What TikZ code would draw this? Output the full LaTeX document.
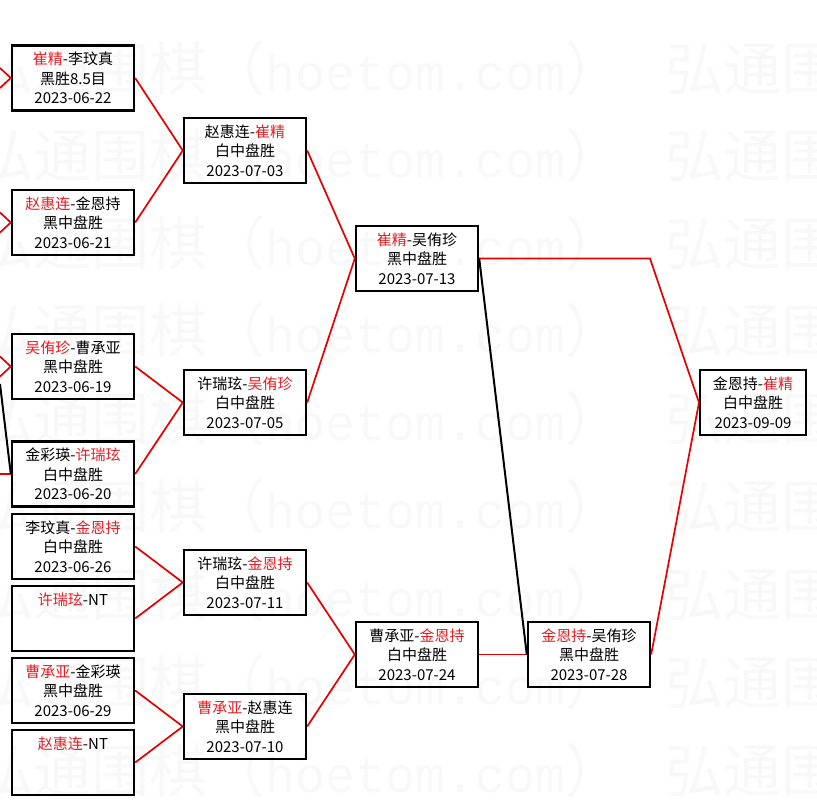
\documentclass[tikz,border=0pt]{standalone}
\usepackage{fontspec}
\setmainfont{Noto Sans CJK SC}
\newfontfamily\monofuente{Liberation Mono}
\usetikzlibrary{positioning}
\definecolor{figRojo}{RGB}{230,0,0}
\definecolor{figTextoRojo}{RGB}{228,30,36}
\definecolor{figMarca}{RGB}{248,248,248}
\newcommand{\gana}[1]{\textcolor{figTextoRojo}{#1}}
\newcommand{\marcatxt}{弘通围棋（{\monofuente\fontsize{50}{50}\selectfont hoetom.com}）\hspace{42pt}}
\tikzset{
  partido/.style={
    rectangle, draw=black, line width=2.4pt, fill=none,
    minimum width=122pt, minimum height=65pt,
    align=center, font=\fontsize{15}{19.5}\selectfont, inner sep=0pt
  },
  partidof/.style={partido, minimum width=106pt, line width=2pt},
  flecha/.style={line width=1.7pt, draw=figRojo},
  flechan/.style={line width=2pt, draw=black},
  marca/.style={
    anchor=west, text=figMarca, inner sep=0pt,
    font=\fontsize{58}{60}\selectfont
  }
}

\begin{document}
\begin{tikzpicture}[x=1pt, y=-1pt]
  \useasboundingbox (0,0) rectangle (817,805);

  % marca de agua
  \begin{scope}
    \clip (0,0) rectangle (817,805);
    \node[marca] (marca1) at (-25,68) {\marcatxt\marcatxt};
    \node[marca] (marca2) at (-25,155) {\marcatxt\marcatxt};
    \node[marca] (marca3) at (-25,243) {\marcatxt\marcatxt};
    \node[marca] (marca4) at (-25,330) {\marcatxt\marcatxt};
    \node[marca] (marca5) at (-25,418) {\marcatxt\marcatxt};
    \node[marca] (marca6) at (-25,506) {\marcatxt\marcatxt};
    \node[marca] (marca7) at (-25,594) {\marcatxt\marcatxt};
    \node[marca] (marca8) at (-25,682) {\marcatxt\marcatxt};
    \node[marca] (marca9) at (-25,770) {\marcatxt\marcatxt};
  \end{scope}

  % primera ronda
  \node[partido] (b1) at (73,78) {\gana{崔精}-李玟真\\黑胜8.5目\\2023-06-22};
  \node[partido] (b2) at (73,222.5) {\gana{赵惠连}-金恩持\\黑中盘胜\\2023-06-21};
  \node[partido] (b3) at (73,366.5) {\gana{吴侑珍}-曹承亚\\黑中盘胜\\2023-06-19};
  \node[partido] (b4) at (73,474) {金彩瑛-\gana{许瑞玹}\\白中盘胜\\2023-06-20};
  \node[partido] (b5) at (73,546.5) {李玟真-\gana{金恩持}\\白中盘胜\\2023-06-26};
  \node[partido] (b6) at (73,618.5) {\gana{许瑞玹}-NT\\\mbox{}\\\mbox{}};
  \node[partido] (b7) at (73,690.5) {\gana{曹承亚}-金彩瑛\\黑中盘胜\\2023-06-29};
  \node[partido] (b8) at (73,762.5) {\gana{赵惠连}-NT\\\mbox{}\\\mbox{}};

  % segunda ronda
  \node[partido] (c1) at (245,150.5) {赵惠连-\gana{崔精}\\白中盘胜\\2023-07-03};
  \node[partido] (c2) at (245,402.5) {许瑞玹-\gana{吴侑珍}\\白中盘胜\\2023-07-05};
  \node[partido] (c3) at (245,582.5) {许瑞玹-\gana{金恩持}\\白中盘胜\\2023-07-11};
  \node[partido] (c4) at (245,726.5) {\gana{曹承亚}-赵惠连\\黑中盘胜\\2023-07-10};

  % tercera ronda
  \node[partido] (d1) at (417,258.5) {\gana{崔精}-吴侑珍\\黑中盘胜\\2023-07-13};
  \node[partido] (d2) at (417,654.5) {曹承亚-\gana{金恩持}\\白中盘胜\\2023-07-24};
  \node[partido] (e1) at (589,654.5) {\gana{金恩持}-吴侑珍\\黑中盘胜\\2023-07-28};

  % final
  \node[partidof] (final) at (753,402.5) {金恩持-\gana{崔精}\\白中盘胜\\2023-09-09};

  % extremos fuera del cuadro
  \coordinate (izq1a) at (0,68);
  \coordinate (izq1b) at (0,88);
  \coordinate (izq2a) at (0,212.5);
  \coordinate (izq2b) at (0,232.5);
  \coordinate (izq3a) at (0,356.5);
  \coordinate (izq3b) at (0,376.5);
  \coordinate (izq4r) at (0,474);
  \coordinate (izq4n) at (0,384);
  \coordinate (codo) at (650,258.5);

  \draw[flecha] (izq1a) -- (b1.west) -- (izq1b);
  \draw[flecha] (izq2a) -- (b2.west) -- (izq2b);
  \draw[flecha] (izq3a) -- (b3.west) -- (izq3b);
  \draw[flecha] (izq4r) -- (b4.west);
  \draw[flechan] (izq4n) -- (b4.west);

  \draw[flecha] (b1.east) -- (c1.west);
  \draw[flecha] (b2.east) -- (c1.west);
  \draw[flecha] (b3.east) -- (c2.west);
  \draw[flecha] (b4.east) -- (c2.west);
  \draw[flecha] (b5.east) -- (c3.west);
  \draw[flecha] (b6.east) -- (c3.west);
  \draw[flecha] (b7.east) -- (c4.west);
  \draw[flecha] (b8.east) -- (c4.west);

  \draw[flecha] (c1.east) -- (d1.west);
  \draw[flecha] (c2.east) -- (d1.west);
  \draw[flecha] (c3.east) -- (d2.west);
  \draw[flecha] (c4.east) -- (d2.west);

  \draw[flecha] (d2.east) -- (e1.west);
  \draw[flecha] (d1.east) -- (codo) -- (final.west);
  \draw[flecha] (e1.east) -- (final.west);
  \draw[flechan] (d1.east) -- (e1.west);
\end{tikzpicture}
\end{document}
